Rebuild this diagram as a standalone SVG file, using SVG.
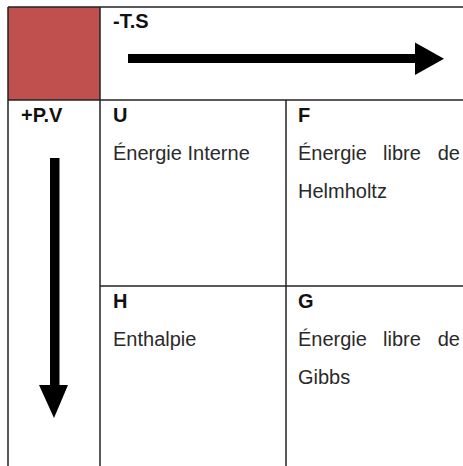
<svg xmlns="http://www.w3.org/2000/svg" width="463" height="466" viewBox="0 0 463 466">
<style>
.t{font-family:"Liberation Sans",Arial,sans-serif;font-size:20px;fill:#2a2a2a}
.b{font-family:"Liberation Sans",Arial,sans-serif;font-size:20px;font-weight:bold;fill:#111}
.grid{stroke:#222;stroke-width:1.5;fill:none}
.arr{fill:#000}
</style>
<rect width="463" height="466" fill="#fff"/>
<g id="corner"><rect x="8" y="7" width="92" height="93" fill="#C0504D"/></g>
<g id="grid" class="grid">
<line x1="8" y1="7" x2="463" y2="7"/>
<line x1="8" y1="100" x2="463" y2="100"/>
<line x1="100" y1="286" x2="463" y2="286"/>
<line x1="8" y1="7" x2="8" y2="466"/>
<line x1="100" y1="7" x2="100" y2="466"/>
<line x1="286" y1="100" x2="286" y2="466"/>
</g>
<g id="axis-ts">
<text class="b" x="113" y="28">-T.S</text>
<rect class="arr" x="128" y="54" width="288" height="9"/>
<polygon class="arr" points="415,42.5 415,75 444,58.75"/>
</g>
<g id="axis-pv">
<text class="b" x="21" y="122">+P.V</text>
<rect class="arr" x="50" y="158" width="9.5" height="228"/>
<polygon class="arr" points="39,385 68,385 54,418"/>
</g>
<g id="cell-U">
<text class="b" x="113" y="122">U</text>
<text class="t" x="113" y="160">Énergie Interne</text>
</g>
<g id="cell-F">
<text class="b" x="298" y="122">F</text>
<text class="t" x="298" y="160">Énergie</text>
<text class="t" x="402" y="160" text-anchor="middle">libre</text>
<text class="t" x="460" y="160" text-anchor="end">de</text>
<text class="t" x="298" y="198">Helmholtz</text>
</g>
<g id="cell-H">
<text class="b" x="113" y="308">H</text>
<text class="t" x="113" y="346">Enthalpie</text>
</g>
<g id="cell-G">
<text class="b" x="298" y="308">G</text>
<text class="t" x="298" y="346">Énergie</text>
<text class="t" x="402" y="346" text-anchor="middle">libre</text>
<text class="t" x="460" y="346" text-anchor="end">de</text>
<text class="t" x="298" y="384">Gibbs</text>
</g>
</svg>
